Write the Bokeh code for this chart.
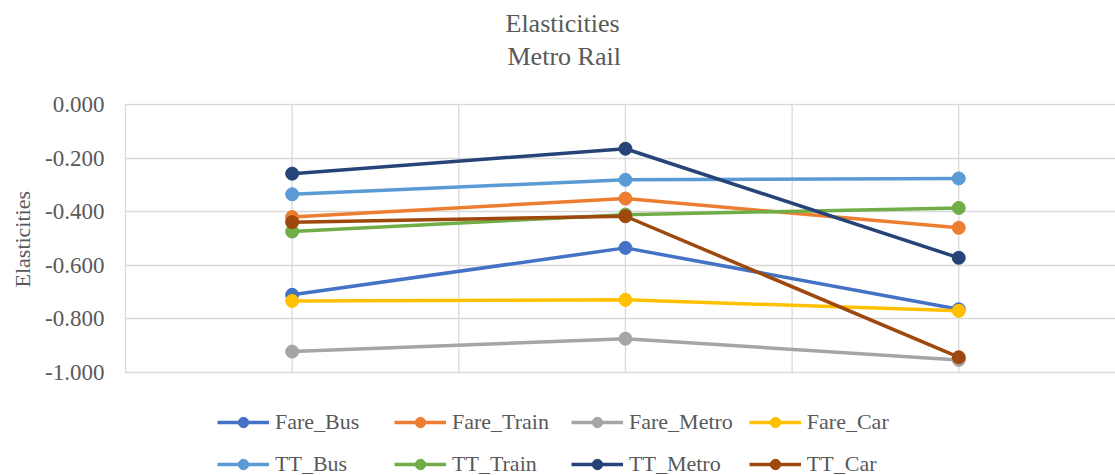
from bokeh.plotting import figure
from bokeh.models import FixedTicker, PrintfTickFormatter, Legend, LegendItem, Title
from bokeh.embed import file_html
from bokeh.resources import INLINE

# ---- data ----
scenario = [1, 2, 3]
series_names = ["Fare_Bus", "Fare_Train", "Fare_Metro", "Fare_Car",
                "TT_Bus", "TT_Train", "TT_Metro", "TT_Car"]
fare_bus = [-0.710, -0.535, -0.764]
fare_train = [-0.420, -0.351, -0.460]
fare_metro = [-0.922, -0.874, -0.953]
fare_car = [-0.733, -0.729, -0.770]
tt_bus = [-0.335, -0.281, -0.276]
tt_train = [-0.474, -0.411, -0.386]
tt_metro = [-0.258, -0.165, -0.572]
tt_car = [-0.439, -0.417, -0.943]
y_ticks = [-1.0, -0.8, -0.6, -0.4, -0.2, 0.0]
x_grid = [0.5, 1.0, 1.5, 2.0, 2.5, 3.0, 3.5]
title_lines = ["Elasticities", "Metro Rail"]
y_label = "Elasticities"

colors = ["#4472C4", "#ED7D31", "#A5A5A5", "#FFC000",
          "#5B9BD5", "#70AD47", "#264478", "#9E480E"]
values = [fare_bus, fare_train, fare_metro, fare_car,
          tt_bus, tt_train, tt_metro, tt_car]

FONT = "Liberation Serif"
TXT = "#595959"
GRID = "#d9d9d9"

W, H = 1115, 475
LEFT, TOP = 124, 103
PLOT_BOTTOM = 372       # pixel row of y = -1
PX = 333.3              # pixels per x unit
PY = 268.0              # pixels per y unit
x_start = 0.5 - 1 / PX
x_end = x_start + (W - LEFT) / PX
y_end = y_ticks[-1] + 1 / PY
y_start = y_ticks[0] - (H - PLOT_BOTTOM) / PY

p = figure(width=W, height=H, output_backend="svg", toolbar_location=None,
           x_range=(x_start, x_end), y_range=(y_start, y_end),
           x_axis_location=None, title=None,
           min_border_left=LEFT, min_border_right=0,
           min_border_top=TOP, min_border_bottom=0)
p.outline_line_color = None
p.background_fill_color = "white"
p.border_fill_color = "white"

# y axis
ya = p.yaxis[0]
ya.ticker = FixedTicker(ticks=y_ticks)
ya.formatter = PrintfTickFormatter(format="%.3f")
ya.axis_line_color = None
ya.major_tick_line_color = None
ya.minor_tick_line_color = None
ya.major_tick_out = 0
ya.major_tick_in = 0
ya.major_label_standoff = 20
ya.major_label_text_font = FONT
ya.major_label_text_font_size = "23px"
ya.major_label_text_color = TXT

# y axis title (as a side title so that it centres on the value span)
p.add_layout(Title(text=y_label, align="left", offset=188, standoff=14,
                   vertical_align="middle",
                   text_font=FONT, text_font_size="22px",
                   text_font_style="normal", text_color=TXT), "left")

# grids: horizontal via the grid, vertical lines limited to the value span
p.ygrid.ticker = FixedTicker(ticks=y_ticks)
p.ygrid.grid_line_color = GRID
p.ygrid.grid_line_width = 1.3
p.xgrid.visible = False
p.segment(x0=x_grid, y0=[y_ticks[0]] * len(x_grid),
          x1=x_grid, y1=[y_ticks[-1]] * len(x_grid),
          line_color=GRID, line_width=1.3)

items = []
for name, col, vals in zip(series_names, colors, values):
    l = p.line(scenario, vals, line_color=col, line_width=3.5)
    s = p.scatter(scenario, vals, marker="circle", size=13,
                  fill_color=col, line_color=col)
    items.append(LegendItem(label=name, renderers=[l, s]))

legend = Legend(items=items, orientation="horizontal", ncols=4,
                location=(93, -2),
                glyph_width=52, glyph_height=26, label_standoff=6,
                label_width=103, spacing=16, padding=0, margin=0,
                border_line_alpha=0, background_fill_alpha=0,
                label_text_font=FONT, label_text_font_size="22px",
                label_text_color=TXT)
p.add_layout(legend, "center")

# titles: spacer nearest the frame, then the two title lines
p.add_layout(Title(text=" ", text_font_size="1px", standoff=28), "above")
p.add_layout(Title(text=title_lines[1], align="left", offset=383, standoff=3,
                   text_font=FONT, text_font_size="26px",
                   text_font_style="normal", text_color=TXT), "above")
p.add_layout(Title(text=title_lines[0], align="left", offset=381, standoff=2,
                   text_font=FONT, text_font_size="26px",
                   text_font_style="normal", text_color=TXT), "above")

open("out.html", "w").write(file_html(p, INLINE))
